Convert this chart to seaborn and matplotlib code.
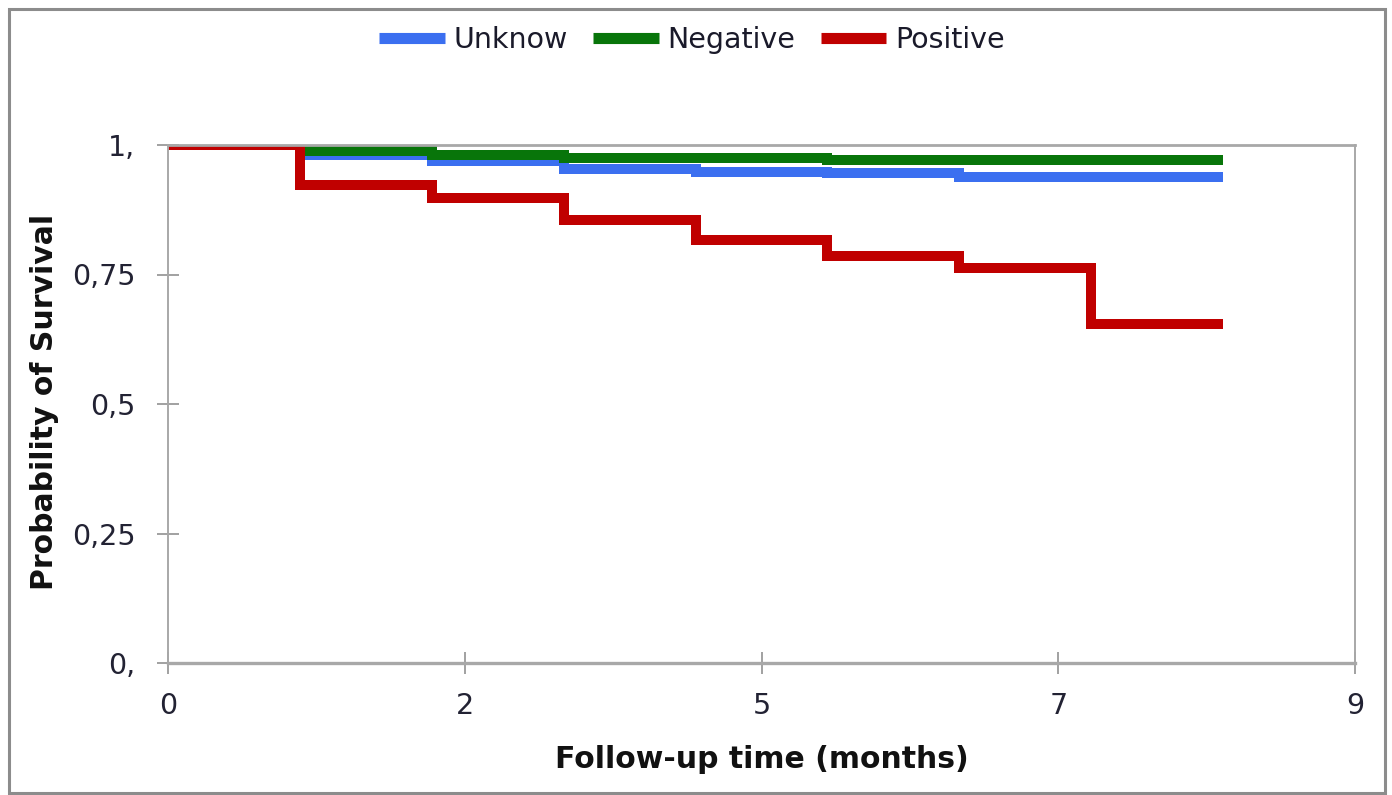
import matplotlib
matplotlib.use("Agg")
import matplotlib.pyplot as plt
import numpy as np
import pandas as pd
import seaborn as sns
from matplotlib.patches import Rectangle

# ---- data ----
time_months = [0, 1, 2, 3, 4, 5, 6, 7, 8]
surv_unknow = [1.0, 0.981, 0.969, 0.953, 0.948, 0.945, 0.938, 0.938, 0.938]
surv_negative = [1.0, 0.988, 0.981, 0.974, 0.974, 0.972, 0.972, 0.972, 0.972]
surv_positive = [1.0, 0.923, 0.897, 0.855, 0.817, 0.786, 0.763, 0.654, 0.654]
groups = ["Unknow", "Negative", "Positive"]
group_colors = ["#3b6ff0", "#08750a", "#c00000"]
x_ticks = [0, 2.25, 4.5, 6.75, 9]
x_tick_labels = ["0", "2", "5", "7", "9"]
y_ticks = [0, 0.25, 0.5, 0.75, 1.0]
y_tick_labels = ["0,", "0,25", "0,5", "0,75", "1,"]

series = {"Unknow": surv_unknow, "Negative": surv_negative, "Positive": surv_positive}
df = pd.concat(
    [pd.DataFrame({"time": time_months, "surv": vals, "group": g}) for g, vals in series.items()],
    ignore_index=True,
)

sns.set_theme(style="white")
plt.rcParams["font.family"] = ["DejaVu Sans"]

W, H = 1392, 795
fig = plt.figure(figsize=(W / 100, H / 100), dpi=100)
ax = fig.add_axes([168 / W, 1 - 663 / H, (1355 - 168) / W, (663 - 145) / H])

palette = dict(zip(groups, group_colors))
sns.lineplot(
    data=df, x="time", y="surv", hue="group", hue_order=groups, palette=palette,
    drawstyle="steps-post", linewidth=7.2, estimator=None, errorbar=None,
    ax=ax, legend=True, solid_capstyle="butt", solid_joinstyle="miter",
)

handles, labels = ax.get_legend_handles_labels()
ax.get_legend().remove()
leg = fig.legend(
    handles, labels, loc="center", bbox_to_anchor=(692 / W, 1 - 40 / H),
    ncol=3, frameon=False, fontsize=20.5, handlelength=2.3, handletextpad=0.3,
    columnspacing=0.9,
)
for lh in leg.legend_handles:
    lh.set_linewidth(8)
    lh.set_solid_capstyle("butt")
for t in leg.get_texts():
    t.set_color("#1a1a2a")

ax.set_xlim(0, 9)
ax.set_ylim(0, 1)
ax.set_xticks(x_ticks)
ax.set_xticklabels(x_tick_labels)
ax.set_yticks(y_ticks)
ax.set_yticklabels(y_tick_labels)

ax.tick_params(axis="both", direction="inout", length=16, width=1.3, color="#9a9a9a",
               labelsize=20.5, labelcolor="#222233", bottom=True, left=True)
ax.tick_params(axis="x", pad=13)
ax.tick_params(axis="y", pad=15.5)

for side, sp in ax.spines.items():
    sp.set_visible(True)
    sp.set_color("#a8a8a8")
    sp.set_linewidth(1.4)
ax.spines["bottom"].set_linewidth(2.4)
ax.spines["top"].set_linewidth(2.0)

ax.set_xlabel("Follow-up time (months)", fontsize=21.5, fontweight="bold", color="#111111")
ax.set_ylabel("Probability of Survival", fontsize=21.5, fontweight="bold", color="#111111")
ax.xaxis.set_label_coords((762 - 168) / (1355 - 168), (663 - 760) / (663 - 145))
ax.xaxis.label.set_va("center")
ax.yaxis.set_label_coords((45 - 168) / (1355 - 168), (663 - 402) / (663 - 145))
ax.yaxis.label.set_va("center")

# outer frame of the figure
fig.patches.append(Rectangle((9 / W, 1 - 793 / H), (1385 - 9) / W, (793 - 9) / H,
                             transform=fig.transFigure, fill=False,
                             edgecolor="#8c8c8c", linewidth=2.2, zorder=0))

fig.savefig("out.png", dpi=100, facecolor="white")
